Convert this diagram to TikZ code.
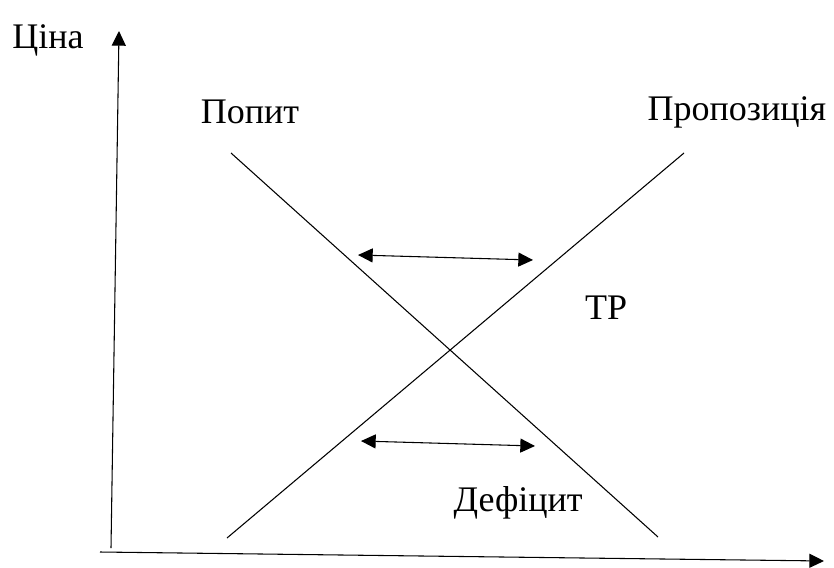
\documentclass[tikz,border=0pt]{standalone}
\usepackage{fontspec}
\setmainfont{Liberation Serif}
\usetikzlibrary{arrows.meta}
\begin{document}
\begin{tikzpicture}[x=0.75pt,y=-0.75pt,
  line/.style={line width=0.8pt},
  tip/.style={-{Triangle[length=11pt,width=10.5pt]}},
  twotip/.style={{Triangle[length=11pt,width=10.5pt]}-{Triangle[length=11pt,width=10.5pt]}},
  lbl/.style={font=\fontsize{27}{32}\selectfont, inner sep=0pt}]
\useasboundingbox (0,0) rectangle (834,567);
% axes
\coordinate (yfoot) at (111,548);
\coordinate (ytop) at (119,31);
\coordinate (xfoot) at (100,552);
\coordinate (xend) at (824,561);
\draw[line,tip] (yfoot) -- (ytop);
\draw[line,tip] (xfoot) -- (xend);
% demand and supply
\coordinate (d1) at (231,153);
\coordinate (d2) at (658,537);
\coordinate (s1) at (227,538);
\coordinate (s2) at (684,153);
\draw[line] (d1) -- (d2);
\draw[line] (s1) -- (s2);
% surplus and shortage gaps
\coordinate (u1) at (358,255);
\coordinate (u2) at (533,260);
\coordinate (l1) at (361,441);
\coordinate (l2) at (535,446);
\draw[line,twotip] (u1) -- (u2);
\draw[line,twotip] (l1) -- (l2);
% labels
\node[lbl] (price) at (48,40) {Ціна};
\node[lbl] (demand) at (250,112) {Попит};
\node[lbl] (supply) at (737,112) {Пропозиція};
\node[lbl] (tr) at (606,308) {ТР};
\node[lbl, anchor=base east] (deficit) at (583,511) {Дефіцит};
\end{tikzpicture}
\end{document}
